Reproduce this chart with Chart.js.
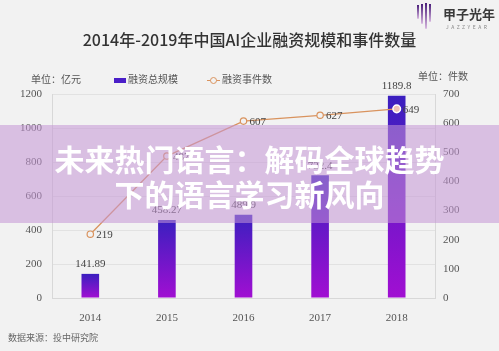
<!DOCTYPE html>
<html>
<head>
<meta charset="utf-8">
<script src="https://cdn.jsdelivr.net/npm/chart.js@4"></script>
<style>
  html, body { margin: 0; padding: 0; }
  body { width: 499px; height: 351px; background: #f2f2f2; position: relative; overflow: hidden;
         font-family: 'Noto Sans CJK SC', sans-serif; }
  #wrap { position: absolute; left: 0; top: 0; width: 499px; height: 351px; }
  .txt { position: absolute; white-space: nowrap; color: #555; }
  #title { left: 0; width: 499px; top: 27px; text-align: center; font-size: 16px; font-weight: 500; color: #333; }
  #unitL { left: 31px; top: 71px; font-size: 10px; }
  #unitR { left: 418px; top: 68px; font-size: 10px; }
  #source { left: 8px; top: 331px; font-size: 9px; color: #666; }
  .leg { position: absolute; top: 71px; font-size: 10px; color: #555; white-space: nowrap; }
  .sw { display: inline-block; width: 12px; height: 5px; background: #4a1ec8; vertical-align: middle; margin-right: 2px; }
  .ln { display: inline-block; position: relative; width: 13px; height: 8px; vertical-align: middle; margin-right: 2px; }
  .ln:before { content: ''; position: absolute; left: 0; right: 0; top: 4px; border-top: 1.3px solid #d9935e; }
  .ln:after { content: ''; position: absolute; left: 3px; top: 1px; width: 5px; height: 5px; border: 1px solid #d9935e; border-radius: 50%; background: #f2f2f2; }
  #logo { position: absolute; left: 417px; top: 3px; }
  #logo .bar { position: absolute; width: 2px; background: linear-gradient(#4a1e7a, #d8b8e0); border-radius: 0 0 1px 1px; }
  #logo .name { position: absolute; left: 26px; top: 1px; font-size: 13px; font-weight: 700; color: #3a3a3a; white-space: nowrap; }
  #logo .en { position: absolute; left: 29px; top: 20px; font-size: 5px; letter-spacing: 2.5px; color: #888; white-space: nowrap; }
  #banner { position: absolute; left: 0; top: 125px; width: 499px; height: 98px; background: rgba(196,149,213,0.55); }
  #banner div { position: absolute; left: 0; width: 499px; text-align: center; color: #fff; font-size: 30px; font-weight: 700; }
</style>
</head>
<body>
<div id="wrap"><canvas id="chart" width="499" height="351"></canvas></div>
<div id="title" class="txt">2014年-2019年中国AI企业融资规模和事件数量</div>
<div id="unitL" class="txt">单位：亿元</div>
<div id="unitR" class="txt">单位：件数</div>
<div class="leg" style="left:114px"><span class="sw"></span>融资总规模</div>
<div class="leg" style="left:207px"><span class="ln"></span>融资事件数</div>
<div id="source" class="txt">数据来源：投中研究院</div>
<div id="logo">
  <div class="bar" style="left:0;top:2px;height:14px"></div>
  <div class="bar" style="left:4px;top:1px;height:20px"></div>
  <div class="bar" style="left:8px;top:0;height:26px"></div>
  <div class="bar" style="left:12px;top:1px;height:18px"></div>
  <div class="name">甲子光年</div>
  <div class="en">JAZZYEAR</div>
</div>
<div id="banner">
  <div style="top:11px">未来热门语言：解码全球趋势</div>
  <div style="top:46px">下的语言学习新风向</div>
</div>
<script>
const years = ['2014', '2015', '2016', '2017', '2018'];
const fundingScale = [141.89, 458.27, 489.9, 722.4, 1189.8];
const fundingEvents = [219, 487, 607, 627, 649];
const leftTicks = [0, 200, 400, 600, 800, 1000, 1200];
const rightTicks = [0, 100, 200, 300, 400, 500, 600, 700];

const TICK_FONT = { family: "'Liberation Serif', 'DejaVu Serif', serif", size: 11 };

function barGradient(ctx) {
    const chart = ctx.chart;
    if (!chart.chartArea || ctx.dataIndex === undefined) return '#5a1ed0';
    const y = chart.scales.y;
    const top = y.getPixelForValue(fundingScale[ctx.dataIndex]);
    const bottom = y.getPixelForValue(0);
    const g = chart.ctx.createLinearGradient(0, top, 0, bottom);
    g.addColorStop(0, '#3a1fbf');
    g.addColorStop(1, '#a10fd2');
    return g;
}

// value labels above bars / right of points
const valueLabels = {
    id: 'valueLabels',
    afterDatasetsDraw(chart) {
        const c = chart.ctx;
        c.save();
        c.font = "11px 'Liberation Serif', serif";
        c.fillStyle = '#444';
        chart.getDatasetMeta(1).data.forEach((el, i) => {
            c.textAlign = 'center';
            c.textBaseline = 'bottom';
            c.fillText(String(fundingScale[i]), el.x, el.y - 4);
        });
        chart.getDatasetMeta(0).data.forEach((el, i) => {
            c.textAlign = 'left';
            c.textBaseline = 'middle';
            c.fillText(String(fundingEvents[i]), el.x + 6, el.y + 1);
        });
        c.restore();
    }
};

new Chart(document.getElementById('chart'), {
    data: {
        labels: years,
        datasets: [{
            type: 'line',
            label: '融资事件数',
            data: fundingEvents,
            yAxisID: 'y1',
            borderColor: '#d9935e',
            borderWidth: 1.3,
            tension: 0,
            pointRadius: [3.2, 3.2, 3.2, 3.2, 3.8],
            pointBorderWidth: [1.2, 1.2, 1.2, 1.2, 1.5],
            pointBorderColor: ['#d9935e', '#d9935e', '#d9935e', '#d9935e', '#ffffff'],
            pointBackgroundColor: ['#f2f2f2', '#f2f2f2', '#f2f2f2', '#f2f2f2', '#f0c2b8'],
            order: 0
        }, {
            type: 'bar',
            label: '融资总规模',
            data: fundingScale,
            yAxisID: 'y',
            backgroundColor: barGradient,
            barPercentage: 0.23,
            categoryPercentage: 1,
            order: 1
        }]
    },
    options: {
        responsive: false,
        animation: false,
        layout: { padding: { top: 94, left: 0, right: 0, bottom: 0 } },
        plugins: { legend: { display: false }, tooltip: { enabled: false } },
        scales: {
            x: {
                grid: { display: false },
                border: { color: '#d8d8d8' },
                ticks: { color: '#555', font: TICK_FONT, padding: 6 },
                afterFit(s) { s.height = 53; }
            },
            y: {
                position: 'left',
                min: 0, max: 1200,
                afterBuildTicks(s) { s.ticks = leftTicks.map(v => ({ value: v })); },
                grid: { color: '#e2e2e2', drawTicks: false },
                border: { color: '#d8d8d8' },
                ticks: { color: '#555', font: TICK_FONT, padding: 10, callback: v => String(v) },
                afterFit(s) { s.width = 52; }
            },
            y1: {
                position: 'right',
                min: 0, max: 700,
                afterBuildTicks(s) { s.ticks = rightTicks.map(v => ({ value: v })); },
                grid: { display: false, drawTicks: false },
                border: { color: '#d8d8d8' },
                ticks: { color: '#555', font: TICK_FONT, padding: 8, callback: v => String(v) },
                afterFit(s) { s.width = 64; }
            }
        }
    },
    plugins: [valueLabels]
});
</script>
</body>
</html>
